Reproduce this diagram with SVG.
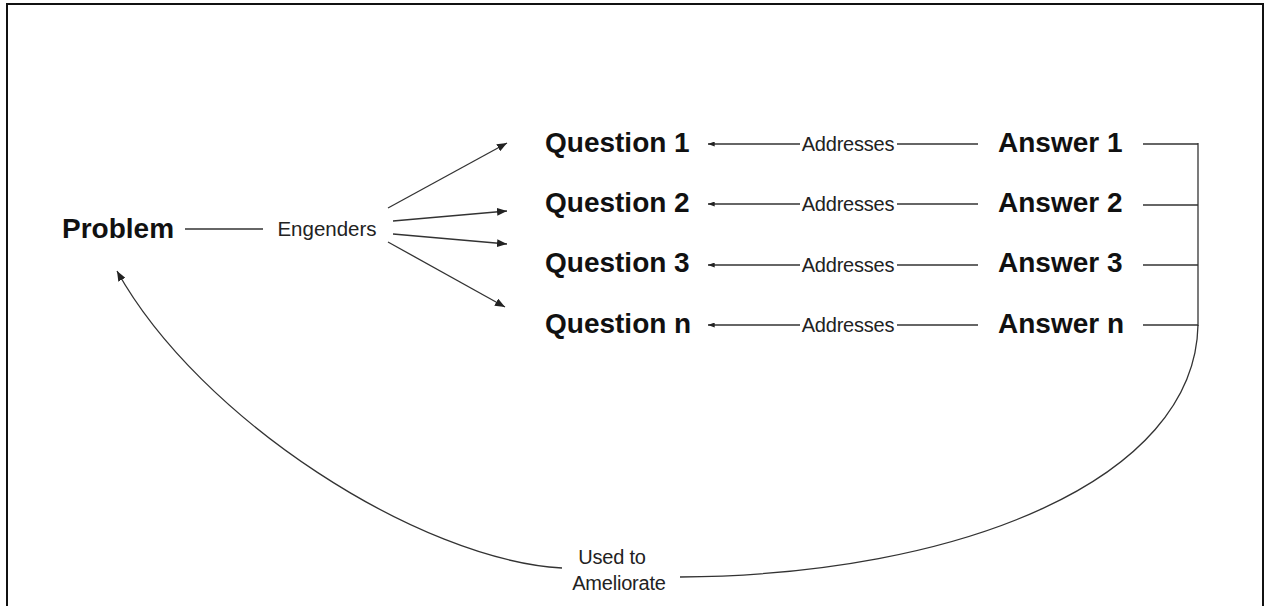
<svg xmlns="http://www.w3.org/2000/svg" width="1265" height="606" viewBox="0 0 1265 606">
  <style>
    .node { font-family: "Liberation Sans", Arial, sans-serif; font-weight: bold; font-size: 28px; fill: #111; }
    .lbl { font-family: "Liberation Sans", Arial, sans-serif; font-size: 20.5px; fill: #222; }
    .lbl2 { font-family: "Liberation Sans", Arial, sans-serif; font-size: 20px; fill: #222; letter-spacing: -0.2px; }
    .ln { stroke: #333; stroke-width: 1.3; fill: none; }
    .arr { marker-end: url(#ah); }
  </style>
  <defs>
    <marker id="ah" viewBox="0 0 10 8" refX="10" refY="4" markerWidth="10" markerHeight="8" markerUnits="userSpaceOnUse" orient="auto">
      <path d="M0,0 L10,4 L0,8 Z" fill="#222"/>
    </marker>
    <marker id="ahs" viewBox="0 0 8 6" refX="8" refY="3" markerWidth="7" markerHeight="5" markerUnits="userSpaceOnUse" orient="auto">
      <path d="M0,0 L8,3 L0,6 Z" fill="#222"/>
    </marker>
  </defs>
  <rect x="0" y="0" width="1265" height="606" fill="#fff"/>
  <path d="M7,606 L7,4 L1263,4 L1263,606" fill="none" stroke="#111" stroke-width="2"/>

  <g id="connectors">
    <line class="ln" x1="185" y1="229" x2="263" y2="229"/>
    <line class="ln arr" x1="388" y1="208" x2="507" y2="143"/>
    <line class="ln arr" x1="393" y1="221" x2="507" y2="211"/>
    <line class="ln arr" x1="393" y1="234" x2="507" y2="244"/>
    <line class="ln arr" x1="388" y1="242" x2="505" y2="307"/>

    <line class="ln" x1="978" y1="144" x2="897" y2="144"/>
    <line class="ln" x1="800" y1="144" x2="708" y2="144" marker-end="url(#ahs)"/>
    <line class="ln" x1="978" y1="204" x2="897" y2="204"/>
    <line class="ln" x1="800" y1="204" x2="708" y2="204" marker-end="url(#ahs)"/>
    <line class="ln" x1="978" y1="265" x2="897" y2="265"/>
    <line class="ln" x1="800" y1="265" x2="708" y2="265" marker-end="url(#ahs)"/>
    <line class="ln" x1="978" y1="325" x2="897" y2="325"/>
    <line class="ln" x1="800" y1="325" x2="708" y2="325" marker-end="url(#ahs)"/>

    <line class="ln" x1="1143" y1="144" x2="1198" y2="144"/>
    <line class="ln" x1="1143" y1="205" x2="1198" y2="205"/>
    <line class="ln" x1="1143" y1="265" x2="1198" y2="265"/>
    <line class="ln" x1="1143" y1="325" x2="1198" y2="325"/>
    <line class="ln" x1="1198" y1="143" x2="1198" y2="326"/>
    <path class="ln" d="M1198,325 C1195,480 960,575 680,577"/>
    <path class="ln arr" d="M562,568 C420,560 200,420 117,271"/>

    <text class="lbl" x="327" y="236" text-anchor="middle">Engenders</text>
    <text class="lbl2" x="848" y="151" text-anchor="middle">Addresses</text>
    <text class="lbl2" x="848" y="211" text-anchor="middle">Addresses</text>
    <text class="lbl2" x="848" y="272" text-anchor="middle">Addresses</text>
    <text class="lbl2" x="848" y="332" text-anchor="middle">Addresses</text>
    <text class="lbl2" x="612" y="564" text-anchor="middle">Used to</text>
    <text class="lbl2" x="619" y="590" text-anchor="middle">Ameliorate</text>
  </g>

  <g id="problem"><text class="node" x="62" y="238">Problem</text></g>
  <g id="question1"><text class="node" x="545" y="152">Question 1</text></g>
  <g id="question2"><text class="node" x="545" y="212">Question 2</text></g>
  <g id="question3"><text class="node" x="545" y="272">Question 3</text></g>
  <g id="questionn"><text class="node" x="545" y="333">Question n</text></g>
  <g id="answer1"><text class="node" x="998" y="152">Answer 1</text></g>
  <g id="answer2"><text class="node" x="998" y="212">Answer 2</text></g>
  <g id="answer3"><text class="node" x="998" y="272">Answer 3</text></g>
  <g id="answern"><text class="node" x="998" y="333">Answer n</text></g>
</svg>
